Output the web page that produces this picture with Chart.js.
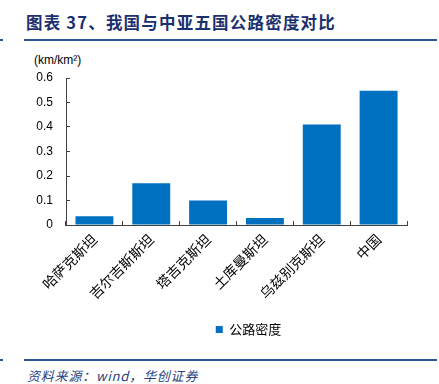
<!DOCTYPE html>
<html>
<head>
<meta charset="utf-8">
<script src="https://cdn.jsdelivr.net/npm/chart.js@4/dist/chart.umd.min.js"></script>
<style>
  html, body { margin: 0; padding: 0; background: #fff; }
  #wrap { position: relative; width: 439px; height: 384px; overflow: hidden; }
  .title { position: absolute; left: 26px; top: 10px; font: bold 16.5px "Noto Sans CJK SC", sans-serif; color: #1c2f6e; white-space: nowrap; letter-spacing: 1.2px; }
  .rule { position: absolute; height: 2px; background: #2f5597; }
  .unit { position: absolute; left: 34px; top: 53px; font: 12px "Liberation Sans", Arial, sans-serif; color: #000; }
  .source { position: absolute; left: 27px; top: 366px; font: italic 13px "Noto Sans CJK SC", sans-serif; color: #2a3f80; white-space: nowrap; letter-spacing: 0.8px; }
  #box { position: absolute; left: 0; top: 50px; width: 439px; height: 300px; }
</style>
</head>
<body>
<div id="wrap">
  <div class="title">图表 37、我国与中亚五国公路密度对比</div>
  <div class="rule" style="left:24px; top:39px; width:413px;"></div>
  <div class="rule" style="left:0; top:39px; width:3px;"></div>
  <div class="unit">(km/km²)</div>
  <div id="box"><canvas id="c"></canvas></div>
  <div class="rule" style="left:24px; top:359px; width:413px;"></div>
  <div class="rule" style="left:0; top:359px; width:3px;"></div>
  <div class="source">资料来源：wind，华创证券</div>
</div>
<script>
// 公路密度 (km/km²)
const countries = ['哈萨克斯坦', '吉尔吉斯斯坦', '塔吉克斯坦', '土库曼斯坦', '乌兹别克斯坦', '中国'];
const density = [0.036, 0.17, 0.10, 0.029, 0.41, 0.548];
const yTicks = [0, 0.1, 0.2, 0.3, 0.4, 0.5, 0.6];

// nudge the legend to the right like the original
const legendShift = {
  id: 'legendShift',
  afterLayout(chart) {
    chart.legend.left += 40;
    chart.legend.right += 40;
  }
};

const ctx = document.getElementById('c').getContext('2d');
new Chart(ctx, {
  type: 'bar',
  data: {
    labels: countries,
    datasets: [{
      label: '公路密度',
      data: density,
      backgroundColor: '#0070C0',
      borderWidth: 0,
      barPercentage: 0.667,
      categoryPercentage: 1
    }]
  },
  options: {
    responsive: true,
    maintainAspectRatio: false,
    animation: false,
    layout: { padding: { left: 10, right: 32, top: 28, bottom: 4 } },
    scales: {
      x: {
        grid: { drawOnChartArea: false, drawTicks: true, tickLength: -4, color: '#404040' },
        border: { color: '#404040', width: 1 },
        ticks: {
          color: '#000',
          maxRotation: 45,
          minRotation: 45,
          padding: 10,
          font: { family: '"Noto Sans CJK SC", sans-serif', size: 14 }
        },
        afterFit(scale) { scale.height = 88; }
      },
      y: {
        min: 0,
        max: 0.6,
        grid: { drawOnChartArea: false, drawTicks: true, tickLength: -4, color: '#404040' },
        border: { color: '#404040', width: 1 },
        afterBuildTicks(scale) { scale.ticks = yTicks.map(v => ({ value: v })); },
        ticks: {
          color: '#000',
          padding: 17,
          callback: v => (v === 0 ? '0' : v.toFixed(1)),
          font: { family: '"Liberation Sans", Arial, sans-serif', size: 12 }
        },
        afterFit(scale) { scale.width = 56; }
      }
    },
    plugins: {
      legend: {
        position: 'bottom',
        labels: {
          boxWidth: 7,
          boxHeight: 7,
          color: '#000',
          font: { family: '"Noto Sans CJK SC", sans-serif', size: 13 }
        }
      },
      tooltip: { enabled: false }
    }
  },
  plugins: [legendShift]
});
</script>
</body>
</html>
